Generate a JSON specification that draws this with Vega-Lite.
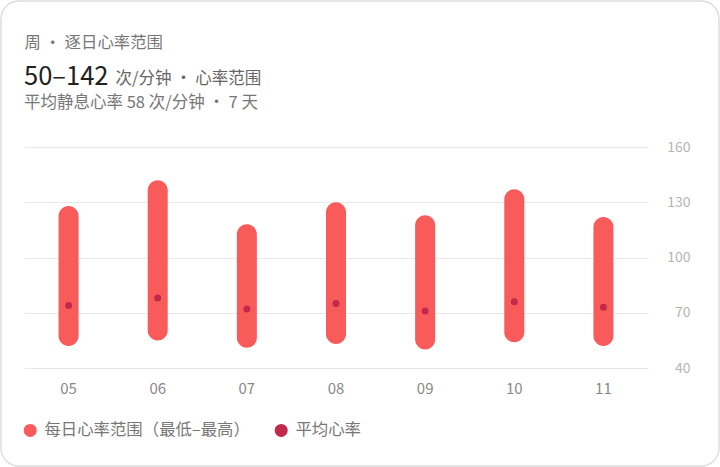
{
  "$schema": "https://vega.github.io/schema/vega-lite/v6.json",
  "width": 718,
  "height": 465,
  "padding": 1,
  "autosize": "none",
  "background": "white",
  "view": {"stroke": "#dddddd", "strokeWidth": 1.5, "cornerRadius": 18, "fill": "white"},
  "config": {"font": "Noto Sans CJK SC"},
  "title": {
    "text": "50–142",
    "subtitle": "平均静息心率 58 次/分钟 · 7 天",
    "anchor": "start",
    "frame": "group",
    "orient": "top",
    "offset": -110,
    "dx": 23,
    "fontSize": 25.5,
    "fontWeight": "normal",
    "color": "#222222",
    "subtitleFontSize": 16.5,
    "subtitleColor": "#777777",
    "subtitlePadding": 4
  },
  "data": {
    "values": [
      {"day": "05", "min": 52, "max": 128, "avg": 74},
      {"day": "06", "min": 55, "max": 142, "avg": 78},
      {"day": "07", "min": 51, "max": 118, "avg": 72},
      {"day": "08", "min": 53, "max": 130, "avg": 75},
      {"day": "09", "min": 50, "max": 123, "avg": 71},
      {"day": "10", "min": 54, "max": 137, "avg": 76},
      {"day": "11", "min": 52, "max": 122, "avg": 73}
    ]
  },
  "encoding": {
    "x": {
      "field": "day",
      "type": "nominal",
      "sort": null,
      "scale": {"range": [23, 647], "paddingInner": 0, "paddingOuter": 0},
      "axis": {
        "orient": "bottom",
        "offset": -98,
        "domain": false,
        "ticks": false,
        "labelAngle": 0,
        "labelFontSize": 15,
        "labelColor": "#888888",
        "labelPadding": 13,
        "title": "周 · 逐日心率范围",
        "titleX": 23,
        "titleY": -326,
        "titleAlign": "left",
        "titleBaseline": "middle",
        "titleFontSize": 16.4,
        "titleFontWeight": "normal",
        "titleColor": "#777777"
      }
    },
    "color": {
      "type": "nominal",
      "scale": {
        "domain": ["每日心率范围（最低–最高）", "平均心率"],
        "range": ["#f95b5b", "#c22a4b"]
      },
      "legend": {
        "title": null,
        "orient": "none",
        "legendX": 21,
        "legendY": 421,
        "direction": "horizontal",
        "symbolType": "circle",
        "symbolSize": 170,
        "symbolStrokeWidth": 0,
        "symbolOpacity": 1,
        "labelFontSize": 16.4,
        "labelColor": "#777777",
        "labelOffset": 6,
        "columnPadding": 23,
        "labelLimit": 300
      }
    }
  },
  "layer": [
    {
      "mark": {"type": "bar", "width": 20, "cornerRadius": 10},
      "encoding": {
        "y": {
          "field": "min",
          "type": "quantitative",
          "scale": {"domain": [40, 160], "range": [367, 146], "nice": false, "zero": false},
          "axis": {
            "orient": "left",
            "offset": -689,
            "values": [40, 70, 100, 130, 160],
            "domain": false,
            "ticks": false,
            "gridColor": "#e8e8e8",
            "gridWidth": 1,
            "labelFontSize": 14,
            "labelColor": "#b5b5b5",
            "labelPadding": 0,
            "title": "次/分钟 · 心率范围",
            "titleAngle": 0,
            "titleX": -575,
            "titleY": 77,
            "titleAlign": "left",
            "titleBaseline": "middle",
            "titleFontSize": 16.5,
            "titleFontWeight": "normal",
            "titleColor": "#666666"
          }
        },
        "y2": {"field": "max"},
        "color": {"datum": "每日心率范围（最低–最高）"}
      }
    },
    {
      "mark": {"type": "point", "filled": true, "size": 49, "opacity": 1},
      "encoding": {
        "y": {"field": "avg", "type": "quantitative"},
        "color": {"datum": "平均心率"}
      }
    }
  ]
}
